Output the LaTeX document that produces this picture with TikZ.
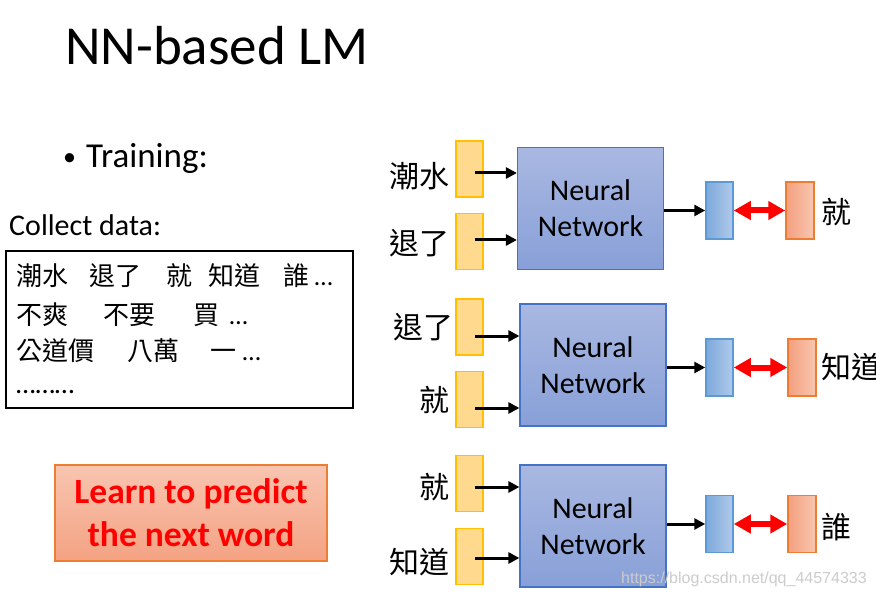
\documentclass[tikz,border=0pt]{standalone}
\usepackage{fontspec}
\setmainfont{Carlito}
\newfontfamily\cjk{Noto Sans CJK TC}
\newfontfamily\wmfont{Liberation Sans}
\usetikzlibrary{arrows.meta,calc}
\definecolor{ybfill}{HTML}{FFD98D}
\definecolor{ybdraw}{HTML}{FFC000}
\definecolor{nntop}{HTML}{A9B8E1}
\definecolor{nnbot}{HTML}{88A0D8}
\definecolor{nndraw}{HTML}{4472C4}
\definecolor{blL}{HTML}{7EA8DC}
\definecolor{blR}{HTML}{B0CAEA}
\definecolor{bldraw}{HTML}{5B9BD5}
\definecolor{orL}{HTML}{F4A07E}
\definecolor{orR}{HTML}{F8C6B1}
\definecolor{ordraw}{HTML}{ED7D31}
\definecolor{rbtop}{HTML}{F8C5B0}
\definecolor{rbbot}{HTML}{F4A283}
\newcommand\putat[2]{\makebox[0pt][l]{\hspace*{#1}#2}}
\begin{document}
\begin{tikzpicture}[x=1pt,y=-1pt,
  inbox/.style={draw=ybdraw,line width=1.5pt,fill=ybfill,minimum width=27pt,minimum height=56pt,inner sep=0},
  nnbox/.style={draw=nndraw,line width=1.2pt,top color=nntop,bottom color=nnbot,minimum width=146pt,minimum height=122pt,inner sep=0,align=center,font=\fontsize{30}{36}\selectfont},
  outbox/.style={draw=bldraw,line width=1.5pt,left color=blL,right color=blR,minimum width=27pt,minimum height=57pt,inner sep=0},
  tgtbox/.style={draw=ordraw,line width=1.5pt,left color=orL,right color=orR,minimum width=28pt,minimum height=57pt,inner sep=0},
  wlabel/.style={font=\cjk\fontsize{30}{30}\selectfont,inner sep=0},
  dataline/.style={anchor=base west,inner sep=0,font=\cjk\fontsize{26}{26}\selectfont},
  blk/.style={line width=3pt,-{Triangle[length=11pt,width=11pt]}},
  redarr/.style={red,line width=6pt,{Triangle[length=17pt,width=18pt]}-{Triangle[length=17pt,width=18pt]}},
]
\useasboundingbox[fill=white] (0,0) rectangle (876,596);

% titles
\node[anchor=base west,inner sep=0,font=\fontsize{55}{55}\selectfont] (title) at (65,65) {NN-based LM};
\node[anchor=base west,inner sep=0,font=\fontsize{35}{35}\selectfont] (train) at (63,168) {{\fontsize{26}{26}\selectfont\raisebox{2pt}{•}}\hspace{10pt}Training:};
\node[anchor=base west,inner sep=0,font=\fontsize{30}{30}\selectfont] (collect) at (9,236) {Collect data:};

% data box
\node[draw,line width=1.2pt,minimum width=347pt,minimum height=157pt,inner sep=0] (data) at (179.5,329.5) {};
\node[dataline] (d1) at (16,286) {\putat{0pt}{潮水}\putat{73pt}{退了}\putat{150pt}{就}\putat{192pt}{知道}\putat{267pt}{誰}\putat{298pt}{\rmfamily …}};
\node[dataline] (d2) at (16,324) {\putat{0pt}{不爽}\putat{87pt}{不要}\putat{177pt}{買}\putat{213pt}{\rmfamily …}};
\node[dataline] (d3) at (16,360) {\putat{0pt}{公道價}\putat{111pt}{八萬}\putat{194pt}{一}\putat{226pt}{\rmfamily …}};
\node[dataline] (d4) at (16,393) {\rmfamily\fontsize{28}{28}\selectfont ………};

% red box
\node[draw=ordraw,line width=1.2pt,top color=rbtop,bottom color=rbbot,minimum width=272pt,minimum height=96pt,inner sep=0,align=center,text=red,font=\bfseries\fontsize{35.5}{43}\selectfont] (learn) at (191,513) {Learn to predict\\the next word};

% ---------- row 1
\node[inbox] (a1) at (469.5,169) {};
\node[inbox] (b1) at (469.5,241.5) {};
\node[nnbox] (n1) at (590.5,208.5) {Neural\\Network};
\node[outbox] (o1) at (719.5,210.5) {};
\node[tgtbox] (t1) at (800,210.5) {};
\node[wlabel,anchor=east] (la1) at (450,176) {潮水};
\node[wlabel,anchor=east] (lb1) at (450,243) {退了};
\node[wlabel,anchor=west] (lt1) at (821,212) {就};
\coordinate (sa1) at ($(a1.center)+(5.5,4)$);
\coordinate (sb1) at ($(b1.center)+(5.5,-1.5)$);
\draw[blk] (sa1) -- (sa1 -| n1.west);
\draw[blk] (sb1) -- (sb1 -| n1.west);
\draw[blk] (n1.east |- o1.west) -- (o1.west);
\draw[redarr] (o1.east) -- (t1.west);

% ---------- row 2
\node[inbox] (a2) at (469.5,327) {};
\node[inbox] (b2) at (469.5,399.5) {};
\node[nnbox] (n2) at (593,365) {Neural\\Network};
\node[outbox] (o2) at (719.5,367.5) {};
\node[tgtbox] (t2) at (802,367.5) {};
\node[wlabel,anchor=east] (la2) at (454,327) {退了};
\node[wlabel,anchor=east] (lb2) at (450,400) {就};
\node[wlabel,anchor=west] (lt2) at (821,367) {知道};
\coordinate (sa2) at ($(a2.center)+(5.5,9)$);
\coordinate (sb2) at ($(b2.center)+(5.5,8.5)$);
\draw[blk] (sa2) -- (sa2 -| n2.west);
\draw[blk] (sb2) -- (sb2 -| n2.west);
\draw[blk] (n2.east |- o2.west) -- (o2.west);
\draw[redarr] (o2.east) -- (t2.west);

% ---------- row 3
\node[inbox] (a3) at (469.5,483.5) {};
\node[inbox] (b3) at (469.5,556.5) {};
\node[nnbox] (n3) at (593,526) {Neural\\Network};
\node[outbox] (o3) at (719.5,524) {};
\node[tgtbox] (t3) at (802,524) {};
\node[wlabel,anchor=east] (la3) at (450,487) {就};
\node[wlabel,anchor=east] (lb3) at (450,562) {知道};
\node[wlabel,anchor=west] (lt3) at (821,527) {誰};
\coordinate (sa3) at ($(a3.center)+(5.5,3.5)$);
\coordinate (sb3) at ($(b3.center)+(5.5,1.5)$);
\draw[blk] (sa3) -- (sa3 -| n3.west);
\draw[blk] (sb3) -- (sb3 -| n3.west);
\draw[blk] (n3.east |- o3.west) -- (o3.west);
\draw[redarr] (o3.east) -- (t3.west);

% watermark
\node[anchor=base west,inner sep=0,text=black!20,font=\wmfont\fontsize{16}{16}\selectfont] (wm) at (621,583) {https://blog.csdn.net/qq\_44574333};
\end{tikzpicture}
\end{document}
